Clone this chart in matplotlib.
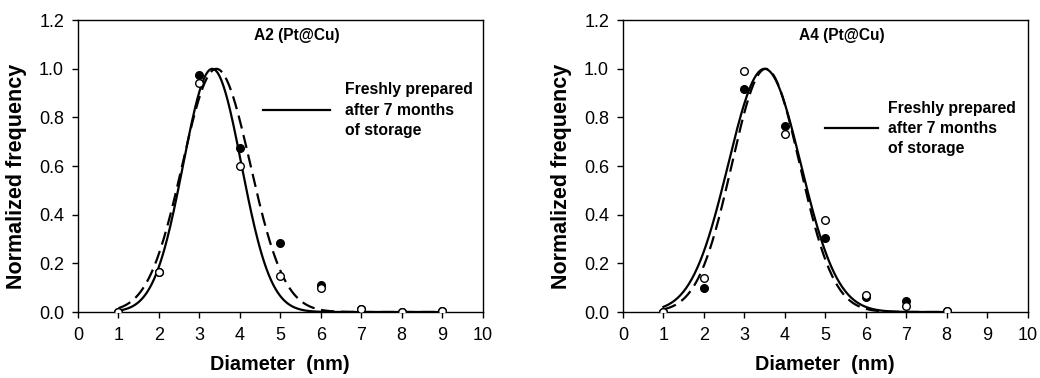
import numpy as np
import matplotlib
matplotlib.use("Agg")
import matplotlib.pyplot as plt

plt.rcParams['font.family'] = ['Liberation Sans', 'DejaVu Sans']

# measured points, panel A2
a2_x = [1, 2, 3, 4, 5, 6, 7, 8, 9]
a2_fresh = [0.0, 0.165, 0.975, 0.675, 0.283, 0.11, 0.012, 0.0, 0.005]
a2_stored = [0.0, 0.165, 0.94, 0.60, 0.15, 0.10, 0.012, 0.0, 0.005]

# measured points, panel A4
a4_x = [1, 2, 3, 4, 5, 6, 7, 8]
a4_fresh = [0.0, 0.10, 0.915, 0.765, 0.305, 0.06, 0.045, 0.005]
a4_stored = [0.0, 0.14, 0.99, 0.73, 0.38, 0.07, 0.025, 0.005]

# gaussian fit parameters (centre, sigma)
a2_fit_fresh = (3.32, 0.72)
a2_fit_stored = (3.42, 0.84)
a4_fit_fresh = (3.50, 0.90)
a4_fit_stored = (3.53, 0.84)

panels = [
    ("A2 (Pt@Cu)", a2_x, a2_fresh, a2_stored, a2_fit_fresh, a2_fit_stored,
     (1, 9), (4.57, 6.22), 6.59, 0.83),
    ("A4 (Pt@Cu)", a4_x, a4_fresh, a4_stored, a4_fit_fresh, a4_fit_stored,
     (1, 8), (4.99, 6.30), 6.54, 0.755),
]

fig = plt.figure(figsize=(10.4, 3.78), dpi=100)
lefts = [0.075, 0.599]

for left, (title, xs, fresh, stored, fit_f, fit_s, xr, leg_x, txt_x, leg_y) in zip(lefts, panels):
    ax = fig.add_axes([left, 0.1746, 0.389, 0.772])
    xx = np.linspace(xr[0], xr[1], 300)
    ax.plot(xx, np.exp(-(xx - fit_f[0]) ** 2 / (2 * fit_f[1] ** 2)),
            color='black', lw=1.6)
    ax.plot(xx, np.exp(-(xx - fit_s[0]) ** 2 / (2 * fit_s[1] ** 2)),
            color='black', lw=1.6, ls=(0, (6, 3)))
    ax.plot(xs, fresh, 'o', ms=5.5, mfc='black', mec='black', mew=1, zorder=3)
    ax.plot(xs, stored, 'o', ms=5.5, mfc='white', mec='black', mew=1, zorder=4)

    ax.set_xlim(0, 10)
    ax.set_ylim(0, 1.2)
    ax.set_xticks(range(0, 11))
    ax.set_yticks(np.arange(0, 1.21, 0.2))
    ax.set_yticklabels([f"{v:.1f}" for v in np.arange(0, 1.21, 0.2)])
    ax.tick_params(direction='out', length=4, width=1, labelsize=13,
                   colors='black')
    ax.tick_params(axis='x', pad=7)
    ax.tick_params(axis='y', pad=6)
    for s in ax.spines.values():
        s.set_linewidth(1)

    ax.set_xlabel("Diameter  (nm)", fontsize=14.3, fontweight='bold', labelpad=8)
    ax.set_ylabel("Normalized frequency", fontsize=15.5, fontweight='bold')
    ax.yaxis.set_label_coords(-0.125, 0.465)

    ax.text(5.4, 1.137, title, ha='center', va='center', fontsize=11.2,
            fontweight='bold')

    # legend as drawn in the figure: one solid sample line and three text rows
    ax.plot(leg_x, [leg_y, leg_y], color='black', lw=1.6)
    ax.text(txt_x, leg_y, "Freshly prepared\nafter 7 months\nof storage",
            ha='left', va='center', fontsize=11.3, fontweight='bold',
            linespacing=1.45)

fig.savefig("out.png", dpi=100)
